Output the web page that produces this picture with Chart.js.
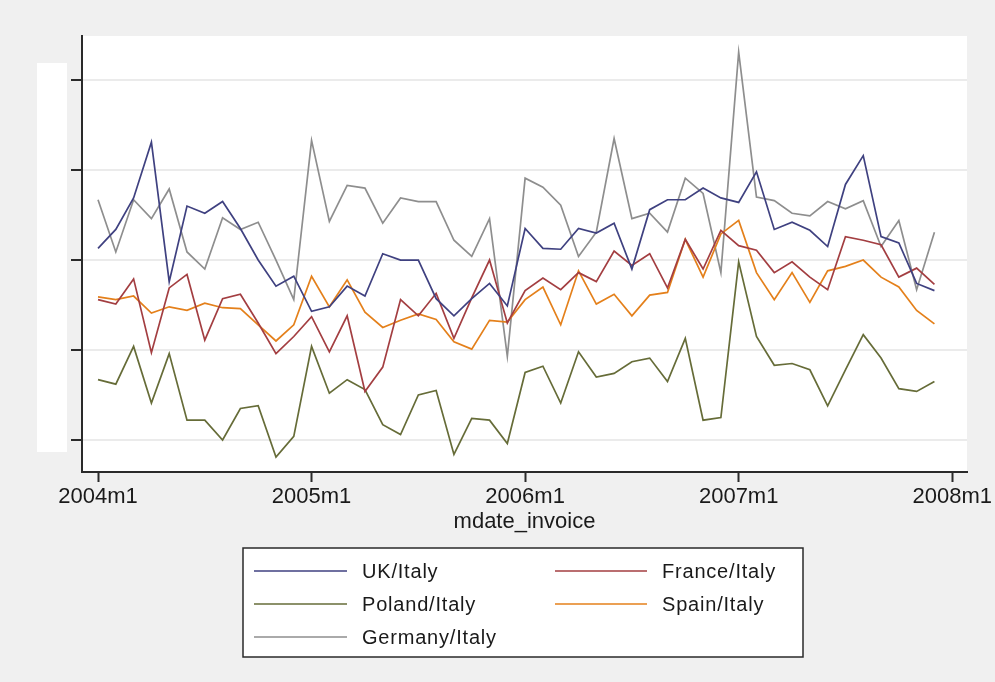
<!DOCTYPE html>
<html>
<head>
<meta charset="utf-8">
<script src="https://cdn.jsdelivr.net/npm/chart.js@4.4.1/dist/chart.umd.min.js"></script>
<style>
  html, body { margin: 0; padding: 0; background: #f0f0f0; }
  #wrap { width: 995px; height: 682px; }
</style>
</head>
<body>
<div id="wrap"><canvas id="c" width="995" height="682"></canvas></div>
<script>
// Months 2004m1 .. 2007m12 (index 0..47)
const months = [];
for (let y = 2004; y <= 2007; y++) for (let m = 1; m <= 12; m++) months.push(y + 'm' + m);

const xTickValues = [0, 12, 24, 36, 48];
const xTickLabels = ['2004m1', '2005m1', '2006m1', '2007m1', '2008m1'];
const yTickValues = [0, 1, 2, 3, 4];

const seriesNames = ['UK/Italy', 'France/Italy', 'Poland/Italy', 'Spain/Italy', 'Germany/Italy'];

const ukItaly = [2.13, 2.34, 2.69, 3.31, 1.76, 2.60, 2.52, 2.65, 2.35, 2.00, 1.71, 1.82,
                 1.43, 1.48, 1.71, 1.60, 2.07, 2.00, 2.00, 1.57, 1.38, 1.57, 1.74, 1.49,
                 2.35, 2.13, 2.12, 2.35, 2.30, 2.41, 1.90, 2.56, 2.67, 2.67, 2.80, 2.69,
                 2.64, 2.98, 2.34, 2.42, 2.33, 2.15, 2.84, 3.16, 2.26, 2.19, 1.74, 1.66];

const franceItaly = [1.56, 1.51, 1.79, 0.97, 1.69, 1.84, 1.11, 1.57, 1.62, 1.30, 0.96, 1.15,
                     1.37, 0.98, 1.38, 0.54, 0.81, 1.56, 1.38, 1.63, 1.13, 1.58, 2.00, 1.30,
                     1.66, 1.80, 1.67, 1.86, 1.76, 2.10, 1.94, 2.07, 1.69, 2.23, 1.90, 2.33,
                     2.16, 2.11, 1.86, 1.98, 1.81, 1.67, 2.26, 2.22, 2.17, 1.81, 1.91, 1.73];

const polandItaly = [0.67, 0.62, 1.04, 0.41, 0.96, 0.22, 0.22, 0.00, 0.35, 0.38, -0.19, 0.04,
                     1.04, 0.52, 0.67, 0.56, 0.17, 0.06, 0.50, 0.55, -0.16, 0.24, 0.22, -0.04,
                     0.75, 0.82, 0.41, 0.98, 0.70, 0.74, 0.87, 0.91, 0.65, 1.13, 0.22, 0.25,
                     1.98, 1.15, 0.83, 0.85, 0.78, 0.38, 0.78, 1.17, 0.91, 0.57, 0.54, 0.65];

const spainItaly = [1.59, 1.56, 1.60, 1.41, 1.48, 1.44, 1.52, 1.47, 1.46, 1.28, 1.10, 1.28,
                    1.82, 1.48, 1.78, 1.42, 1.25, 1.33, 1.40, 1.34, 1.09, 1.01, 1.33, 1.31,
                    1.56, 1.70, 1.28, 1.88, 1.51, 1.62, 1.38, 1.61, 1.64, 2.23, 1.81, 2.29,
                    2.44, 1.86, 1.56, 1.86, 1.53, 1.88, 1.93, 2.00, 1.81, 1.70, 1.44, 1.29];

const germanyItaly = [2.67, 2.09, 2.67, 2.46, 2.79, 2.09, 1.90, 2.47, 2.34, 2.42, 2.00, 1.56,
                      3.33, 2.43, 2.83, 2.80, 2.41, 2.69, 2.65, 2.65, 2.22, 2.04, 2.46, 0.93,
                      2.91, 2.81, 2.61, 2.04, 2.31, 3.35, 2.46, 2.52, 2.31, 2.91, 2.74, 1.86,
                      4.31, 2.70, 2.66, 2.52, 2.49, 2.65, 2.57, 2.66, 2.15, 2.44, 1.67, 2.31];

const seriesValues = [ukItaly, franceItaly, polandItaly, spainItaly, germanyItaly];
const seriesColors = ['#3f4180', '#a33e41', '#666c38', '#e4801b', '#8e8e8e'];

const datasets = seriesValues.map((vals, k) => ({
  label: seriesNames[k],
  data: vals.map((v, i) => ({ x: i, y: v })),
  borderColor: seriesColors[k],
  backgroundColor: seriesColors[k],
  borderWidth: 1.7,
  pointRadius: 0,
  tension: 0,
  fill: false
}));

const bgPlugin = {
  id: 'bg',
  beforeDraw(chart) {
    const ctx = chart.ctx, a = chart.chartArea;
    ctx.save();
    ctx.fillStyle = '#f0f0f0';
    ctx.fillRect(0, 0, chart.width, chart.height);
    ctx.fillStyle = '#ffffff';
    ctx.fillRect(a.left, a.top, a.right - a.left, a.bottom - a.top);
    // white label mask on the left
    ctx.fillRect(37, 63, 30, 389);
    ctx.restore();
  }
};

const legendPlugin = {
  id: 'boxLegend',
  afterDraw(chart) {
    const ctx = chart.ctx;
    const bx = 243, by = 548, bw = 560, bh = 109;
    ctx.save();
    ctx.fillStyle = '#ffffff';
    ctx.fillRect(bx, by, bw, bh);
    ctx.strokeStyle = '#2a2a2a';
    ctx.lineWidth = 1.5;
    ctx.strokeRect(bx, by, bw, bh);
    const cols = [{ lx: 254, lw: 93, tx: 362 }, { lx: 555, lw: 92, tx: 662 }];
    const rows = [571, 604, 637];
    ctx.font = '20px "Liberation Sans", Arial, sans-serif';
    ctx.textBaseline = 'middle';
    ctx.letterSpacing = '0.8px';
    chart.data.datasets.forEach((ds, k) => {
      const c = cols[k % 2], r = rows[Math.floor(k / 2)];
      ctx.strokeStyle = ds.borderColor;
      ctx.lineWidth = 1.7;
      ctx.beginPath();
      ctx.moveTo(c.lx, r);
      ctx.lineTo(c.lx + c.lw, r);
      ctx.stroke();
      ctx.fillStyle = '#1a1a1a';
      ctx.fillText(ds.label, c.tx, r + 1);
    });
    ctx.restore();
  }
};

new Chart(document.getElementById('c'), {
  type: 'line',
  data: { datasets },
  plugins: [bgPlugin, legendPlugin],
  options: {
    responsive: false,
    animation: false,
    layout: { padding: { left: 0, top: 36, right: 28, bottom: 147 } },
    plugins: { legend: { display: false }, tooltip: { enabled: false } },
    scales: {
      x: {
        type: 'linear',
        min: -0.9,
        max: 48.83,
        afterBuildTicks(scale) { scale.ticks = xTickValues.map(v => ({ value: v })); },
        afterFit(scale) { scale.height = 63; },
        ticks: {
          callback(v) { const i = xTickValues.indexOf(v); return i >= 0 ? xTickLabels[i] : ''; },
          font: { family: '"Liberation Sans", Arial, sans-serif', size: 22 },
          color: '#1a1a1a',
          padding: 2,
          maxRotation: 0,
          autoSkip: false
        },
        grid: { drawOnChartArea: false, drawTicks: true, tickLength: 10, tickColor: '#2a2a2a', tickWidth: 2 },
        border: { display: true, color: '#2a2a2a', width: 2 },
        title: {
          display: true,
          text: 'mdate_invoice',
          font: { family: '"Liberation Sans", Arial, sans-serif', size: 22 },
          color: '#1a1a1a',
          padding: { top: 0, bottom: 0 }
        }
      },
      y: {
        type: 'linear',
        min: -0.356,
        max: 4.49,
        afterBuildTicks(scale) { scale.ticks = yTickValues.map(v => ({ value: v })); },
        afterFit(scale) { scale.width = 82; },
        ticks: { display: false },
        grid: { color: '#ebebeb', lineWidth: 2, drawTicks: true, tickLength: 11, tickColor: '#2a2a2a', tickWidth: 2 },
        border: { display: true, color: '#2a2a2a', width: 2 }
      }
    }
  }
});
</script>
</body>
</html>
